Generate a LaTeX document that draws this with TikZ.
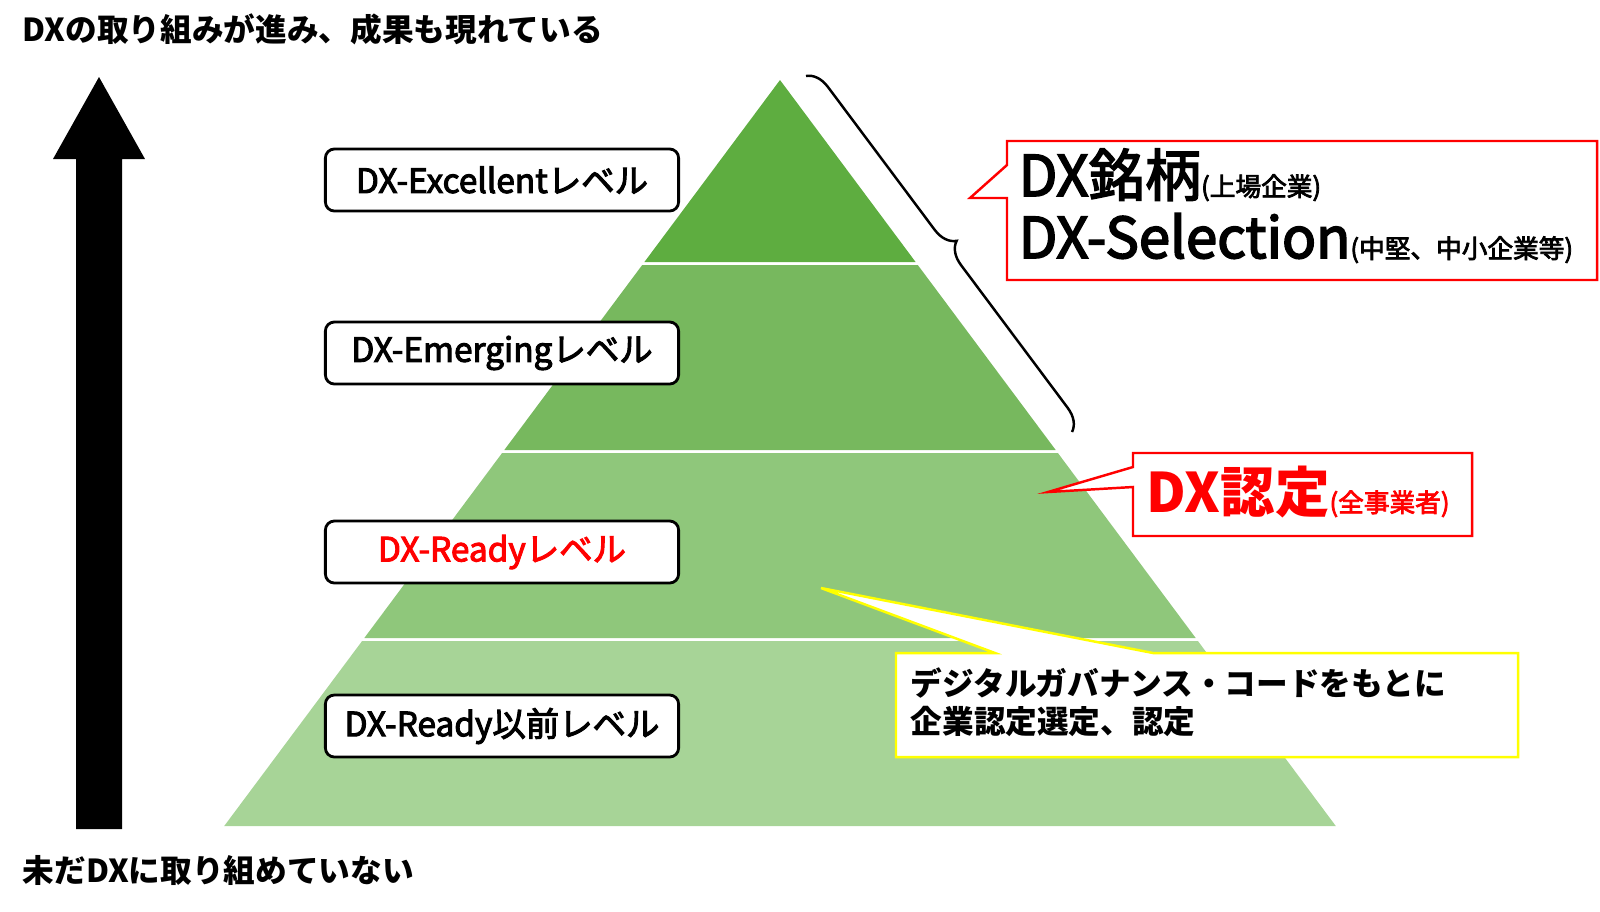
\documentclass[tikz,border=0pt]{standalone}
\usepackage{fontspec}
\setmainfont{Noto Sans CJK JP}
\newfontfamily\medfont[FakeBold=3]{Noto Sans CJK JP}
\usepackage{xcolor}
\usepackage{tikz}
\usetikzlibrary{positioning, decorations.pathreplacing}

\definecolor{lay1}{RGB}{94,173,64}
\definecolor{lay2}{RGB}{119,184,94}
\definecolor{lay3}{RGB}{143,199,123}
\definecolor{lay4}{RGB}{167,212,151}
\definecolor{callred}{RGB}{255,0,0}
\definecolor{callyel}{RGB}{255,255,0}

\begin{document}
\begin{tikzpicture}[x=0.01cm, y=-0.01cm,
    lvl/.style={draw, line width=0.8pt, rounded corners=0.09cm, fill=white, minimum width=3.53cm, minimum height=0.62cm, inner sep=0pt, font=\medfont\fontsize{9.5}{11}\selectfont},
    lbl/.style={anchor=base west, inner sep=0pt, font=\bfseries\fontsize{9}{11}\selectfont},
    big/.style={anchor=base west, inner sep=0pt, font=\medfont\fontsize{16}{18}\selectfont}]
    \useasboundingbox (0,0) rectangle (1600,911);
    \fill[lay1] (780,80) -- (915.6,262) -- (644.4,262) -- cycle;
    \fill[lay2] (642.2,265) -- (917.8,265) -- (1055.7,450) -- (504.3,450) -- cycle;
    \fill[lay3] (502.1,453) -- (1057.9,453) -- (1195.7,638) -- (364.3,638) -- cycle;
    \fill[lay4] (362.1,641) -- (1197.9,641) -- (1335.8,826) -- (224.2,826) -- cycle;
    \fill (76,829) -- (76,159) -- (53,159) -- (99,77) -- (145,159) -- (122,159) -- (122,829) -- cycle;
    \node[lbl] (top) at (22,41) {DXの取り組みが進み、成果も現れている};
    \node[lbl] (bottom) at (22,882) {未だDXに取り組めていない};
    \node[lvl] (E) at (502,180) {DX-Excellentレベル};
    \node[lvl] (M) at (502,353) {DX-Emergingレベル};
    \node[lvl, text=callred] (R) at (502,552) {DX-Readyレベル};
    \node[lvl] (P) at (502,726) {DX-Ready以前レベル};
    \draw[line width=0.7pt, decorate, decoration={brace, amplitude=0.22cm}] (806,76) -- (1072,432);
    \coordinate (tipS) at (970,198);
    \coordinate (tipN) at (1048,492);
    \coordinate (tipG) at (821,588);
    \draw[callred, line width=0.7pt, fill=white] (1007,141) -- (1597,141) -- (1597,280) -- (1007,280) -- (1007,198) -- (tipS) -- (1007,165) -- cycle;
    \draw[callred, line width=0.7pt, fill=white] (1133,453) -- (1472,453) -- (1472,536) -- (1133,536) -- (1133,487) -- (tipN) -- (1133,467) -- cycle;
    \draw[callyel, line width=0.7pt, fill=white] (896,653) -- (995,653) -- (tipG) -- (1153,653) -- (1518,653) -- (1518,757) -- (896,757) -- cycle;
    \node[big] (S1) at (1018,196) {DX銘柄{\fontsize{7.3}{8}\selectfont(上場企業)}};
    \node[big] (S2) at (1018,258) {DX-Selection{\fontsize{7.3}{8}\selectfont(中堅、中小企業等)}};
    \node[big, text=callred, font=\bfseries\fontsize{15.5}{18}\selectfont] (N) at (1146,512) {DX認定{\mdseries\medfont\fontsize{7.3}{8}\selectfont(全事業者)}};
    \node[lbl, align=left, font=\bfseries\fontsize{9}{10.8}\selectfont] (G) at (910,733) {デジタルガバナンス・コードをもとに\\企業認定選定、認定};
\end{tikzpicture}
\end{document}
